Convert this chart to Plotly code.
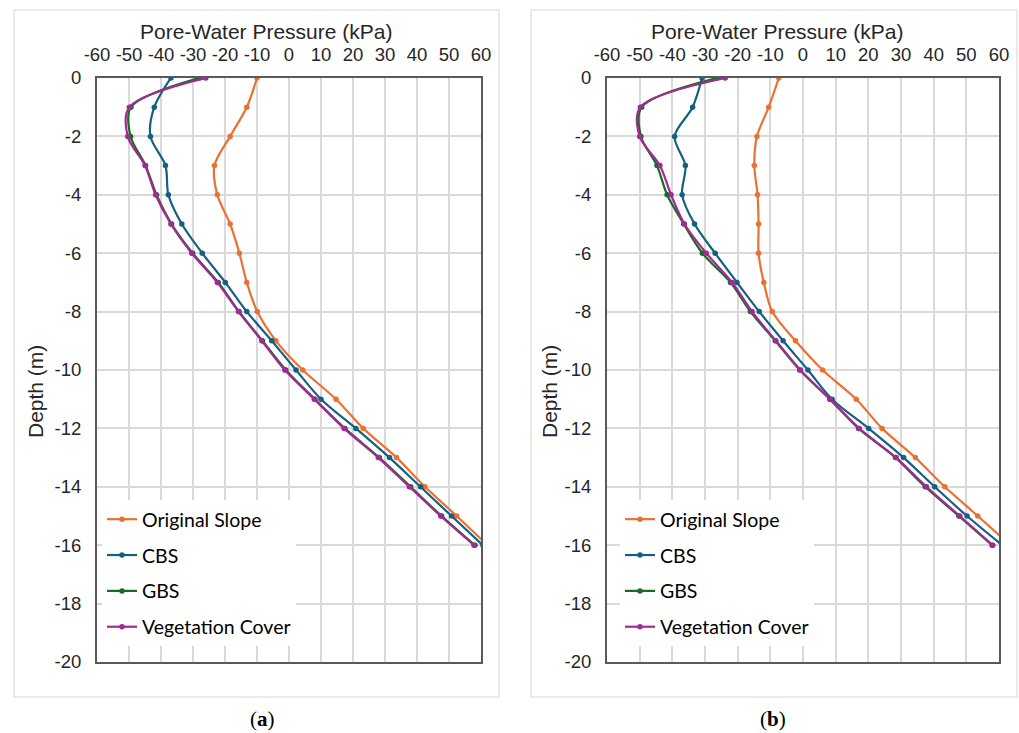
import plotly.graph_objects as go

# ---------------- data ----------------
depth = [0, -1, -2, -3, -4, -5, -6, -7, -8, -9, -10, -11, -12, -13, -14, -15, -16]

orig_a = [-10.0, -13.2, -18.4, -23.3, -22.4, -18.4, -15.5, -13.2, -9.9, -4.1, 4.3, 14.7, 23.2, 33.6, 42.5, 52.4, 62.0]
cbs_a = [-36.9, -42.1, -43.3, -38.6, -37.7, -33.5, -27.1, -19.9, -13.2, -5.4, 2.2, 10.0, 20.9, 31.4, 41.1, 50.8, 60.6]
gbs_a = [-28.1, -49.4, -49.5, -44.8, -41.4, -36.7, -30.1, -22.1, -15.6, -8.3, -1.0, 8.1, 17.5, 28.2, 38.0, 47.7, 58.1]
veg_a = [-26.0, -49.9, -50.4, -45.0, -41.7, -36.9, -30.4, -22.4, -15.8, -8.5, -1.3, 7.9, 17.2, 27.9, 37.6, 47.4, 57.8]

orig_b = [-7.4, -10.5, -14.1, -14.9, -13.9, -13.6, -13.6, -12.0, -9.4, -2.3, 6.0, 16.3, 24.2, 34.4, 43.4, 53.5, 63.5]
cbs_b = [-30.9, -33.8, -39.3, -36.0, -37.0, -33.2, -26.9, -20.2, -13.4, -6.1, 1.5, 8.9, 20.1, 30.8, 40.3, 50.2, 61.0]
gbs_b = [-26.3, -49.4, -49.6, -44.7, -41.6, -36.5, -30.8, -22.2, -16.1, -8.5, -1.0, 8.2, 17.0, 28.3, 37.4, 47.7, 57.9]
veg_b = [-23.8, -49.8, -50.0, -43.8, -40.4, -36.3, -29.6, -21.7, -15.6, -8.3, -0.8, 8.3, 17.2, 28.5, 37.8, 48.0, 58.1]

series_names = ["Original Slope", "CBS", "GBS", "Vegetation Cover"]
series_colors = ["#E97132", "#156082", "#196B24", "#A02B93"]
x_ticks = [-60, -50, -40, -30, -20, -10, 0, 10, 20, 30, 40, 50, 60]
x_tick_labels = ["-60", "-50", "-40", "-30", "-20", "-10", "0", "10", "20", "30", "40", "50", "60"]
y_ticks = [0, -2, -4, -6, -8, -10, -12, -14, -16, -18, -20]
y_tick_labels = ["0", "-2", "-4", "-6", "-8", "-10", "-12", "-14", "-16", "-18", "-20"]
x_title = "Pore-Water Pressure (kPa)"
y_title = "Depth (m)"
captions = ["(<b>a</b>)", "(<b>b</b>)"]

# ---------------- layout helpers ----------------
W, H = 1019, 733
def fx(p):
    return p / W
def fy(p):
    return 1 - p / H

fig = go.Figure()

panels = [
    dict(data=[orig_a, cbs_a, gbs_a, veg_a], xa="x", ya="y", legend="legend"),
    dict(data=[orig_b, cbs_b, gbs_b, veg_b], xa="x2", ya="y2", legend="legend2"),
]
for pi, p in enumerate(panels):
    for si, vals in enumerate(p["data"]):
        fig.add_trace(go.Scatter(
            x=vals, y=depth, mode="lines+markers",
            name=series_names[si],
            line=dict(color=series_colors[si], width=2.2, shape="spline", smoothing=0.9),
            marker=dict(color=series_colors[si], size=5.5),
            xaxis=p["xa"], yaxis=p["ya"],
            legend=p["legend"], legendgroup=f"{pi}-{si}",
            cliponaxis=True,
        ))

tick_font = dict(family="Liberation Sans, Arial", size=18.5, color="#262626")
xaxis_common = dict(
    range=[-60, 60], tickvals=x_ticks, ticktext=x_tick_labels, side="top", showgrid=True,
    gridcolor="#d9d9d9", gridwidth=1.5, zeroline=False,
    showline=True, linecolor="#595959", linewidth=2, mirror=True,
    ticks="", tickfont=tick_font, ticklabelstandoff=8, tickangle=0,
    automargin=False,
)
yaxis_common = dict(
    range=[-20, 0], tickvals=y_ticks, ticktext=y_tick_labels, showgrid=True,
    gridcolor="#d9d9d9", gridwidth=1.5, zeroline=False,
    showline=True, linecolor="#595959", linewidth=2, mirror=True,
    ticks="", tickfont=tick_font, ticklabelstandoff=10,
    automargin=False,
)

y_dom = [fy(662), fy(78)]
fig.update_layout(
    width=W, height=H,
    margin=dict(l=0, r=0, t=0, b=0, autoexpand=False),
    paper_bgcolor="white", plot_bgcolor="white",
    showlegend=True,
    xaxis=dict(domain=[fx(97), fx(481)], anchor="y", **xaxis_common),
    yaxis=dict(domain=y_dom, anchor="x", **yaxis_common),
    xaxis2=dict(domain=[fx(607), fx(999)], anchor="y2", **xaxis_common),
    yaxis2=dict(domain=y_dom, anchor="x2", **yaxis_common),
)

legend_common = dict(
    bgcolor="white", borderwidth=0,
    font=dict(family="Lato, Noto Sans", size=19.5, color="#000000"),
    tracegroupgap=7.5, yanchor="top", xanchor="left",
    itemclick=False,
)
fig.update_layout(
    legend=dict(x=fx(102), y=fy(500), **legend_common),
    legend2=dict(x=fx(620), y=fy(500), **legend_common),
)

annotations = []
shapes = []
title_font = dict(family="Liberation Sans, Arial", size=21, color="#262626")
for cx_title, cx_y, cx_cap, box in [(266, 35, 262, (14, 499)), (777, 549, 773, (531, 1017))]:
    annotations.append(dict(text=x_title, x=fx(cx_title), y=fy(31), xref="paper", yref="paper",
                            showarrow=False, font=title_font, xanchor="center", yanchor="middle"))
    annotations.append(dict(text=y_title, x=fx(cx_y), y=fy(392), xref="paper", yref="paper",
                            showarrow=False, font=title_font, textangle=-90,
                            xanchor="center", yanchor="middle"))
    shapes.append(dict(type="rect", xref="paper", yref="paper",
                       x0=fx(box[0]), x1=fx(box[1]), y0=fy(697), y1=fy(10),
                       line=dict(color="#e3e3e3", width=1.5), layer="below"))
for cap, cx in zip(captions, [262, 773]):
    annotations.append(dict(text=cap, x=fx(cx), y=fy(719), xref="paper", yref="paper",
                            showarrow=False,
                            font=dict(family="Liberation Serif, DejaVu Serif", size=21, color="#000000"),
                            xanchor="center", yanchor="middle"))
fig.update_layout(annotations=annotations, shapes=shapes)

fig.write_html("out.html")
